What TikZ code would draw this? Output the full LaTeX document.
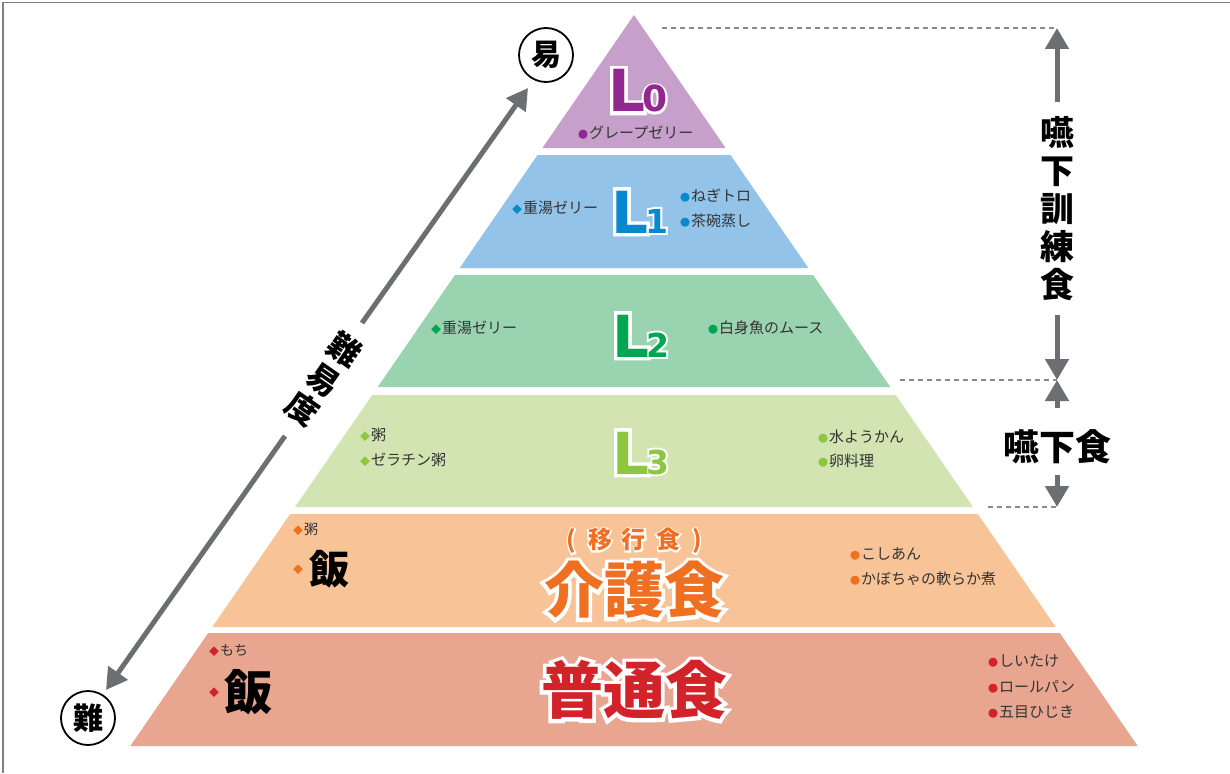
\documentclass[tikz,border=0pt]{standalone}
\usepackage{fontspec}
\usetikzlibrary{arrows.meta}
\newfontfamily\jp{Noto Sans CJK JP}
\newfontfamily\jph{Noto Sans CJK JP}[BoldFeatures={FakeBold=12}]
\newfontfamily\lat{DejaVu Sans}
\newfontfamily\lath{DejaVu Sans}[BoldFeatures={FakeBold=12}]
\definecolor{c0}{HTML}{C6A0CB}\definecolor{t0}{HTML}{92278F}
\definecolor{c1}{HTML}{93C3E8}\definecolor{t1}{HTML}{0A88CE}
\definecolor{c2}{HTML}{9AD3AF}\definecolor{t2}{HTML}{00A651}
\definecolor{c3}{HTML}{D1E4B1}\definecolor{t3}{HTML}{8DC63F}
\definecolor{c4}{HTML}{F9C398}\definecolor{t4}{HTML}{F07022}
\definecolor{c5}{HTML}{E8A58F}\definecolor{t5}{HTML}{D2232A}
\definecolor{agray}{HTML}{6D6E71}\definecolor{dgray}{HTML}{8A8A8A}
\definecolor{txt}{HTML}{333333}\definecolor{frame}{HTML}{808080}
\newcommand\bc[1]{\textcolor{#1}{\fontsize{10}{10}\selectfont ●}\hspace{1pt}}
\newcommand\bd[1]{\textcolor{#1}{\fontsize{10}{10}\selectfont ◆}\hspace{1pt}}
\begin{document}
\begin{tikzpicture}[x=1pt,y=-1pt,
  lab/.style={font=\jp\fontsize{15}{18}\selectfont, text=txt, inner sep=0, anchor=west},
  rice/.style={font=\jp\bfseries, text=black, inner sep=0, anchor=west},
  garrow/.style={draw=agray, line width=5pt, -{Triangle[width=23pt,length=21pt]}},
  dashln/.style={draw=dgray, line width=1.1pt, dash pattern=on 5pt off 4pt},
  halo/.style={inner sep=0, text=white},
  circ/.style={draw=black, line width=1.8pt, circle, minimum size=54pt, inner sep=0, font=\jp\bfseries\fontsize{30}{30}\selectfont},
]
\useasboundingbox (0,0) rectangle (1230,773);
% frame
\draw[frame, line width=1.6pt] (3,773) -- (3,2.5) -- (1230,2.5);

% pyramid layers
\fill[c0] (634,15) -- (725.6,148) -- (542.4,148) -- cycle;
\fill[c1] (537.5,155) -- (730.5,155) -- (808.3,268) -- (459.7,268) -- cycle;
\fill[c2] (454.9,275) -- (813.1,275) -- (890.3,387) -- (377.7,387) -- cycle;
\fill[c3] (372.2,395) -- (895.8,395) -- (973,507) -- (295,507) -- cycle;
\fill[c4] (290.2,514) -- (977.8,514) -- (1055.7,627) -- (212.3,627) -- cycle;
\fill[c5] (208.2,633) -- (1059.8,633) -- (1137.7,746) -- (130.3,746) -- cycle;

% L labels
\node[halo, anchor=base west] (L0h) at (608,112) {\lath\bfseries\fontsize{58}{58}\selectfont L\kern-3pt\fontsize{36}{36}\selectfont 0};
\node[inner sep=0, anchor=base west, text=t0] (L0) at (608,112) {\lat\bfseries\fontsize{58}{58}\selectfont L\kern-3pt\fontsize{36}{36}\selectfont 0};
\node[halo, anchor=base west] (L1h) at (611,233) {\lath\bfseries\fontsize{58}{58}\selectfont L\kern-3pt\fontsize{33}{33}\selectfont 1};
\node[inner sep=0, anchor=base west, text=t1] (L1) at (611,233) {\lat\bfseries\fontsize{58}{58}\selectfont L\kern-3pt\fontsize{33}{33}\selectfont 1};
\node[halo, anchor=base west] (L2h) at (612,357) {\lath\bfseries\fontsize{58}{58}\selectfont L\kern-3pt\fontsize{33}{33}\selectfont 2};
\node[inner sep=0, anchor=base west, text=t2] (L2) at (612,357) {\lat\bfseries\fontsize{58}{58}\selectfont L\kern-3pt\fontsize{33}{33}\selectfont 2};
\node[halo, anchor=base west] (L3h) at (612,474) {\lath\bfseries\fontsize{58}{58}\selectfont L\kern-3pt\fontsize{33}{33}\selectfont 3};
\node[inner sep=0, anchor=base west, text=t3] (L3) at (612,474) {\lat\bfseries\fontsize{58}{58}\selectfont L\kern-3pt\fontsize{33}{33}\selectfont 3};

% items L0
\node[lab] (i0) at (578,133) {\bc{t0}グレープゼリー};
% items L1
\node[lab] (i1a) at (512,208) {\bd{t1}重湯ゼリー};
\node[lab] (i1b) at (680,196) {\bc{t1}ねぎトロ};
\node[lab] (i1c) at (680,221) {\bc{t1}茶碗蒸し};
% items L2
\node[lab] (i2a) at (431,328) {\bd{t2}重湯ゼリー};
\node[lab] (i2b) at (708,328) {\bc{t2}白身魚のムース};
% items L3
\node[lab] (i3a) at (360,435) {\bd{t3}粥};
\node[lab] (i3b) at (360,460) {\bd{t3}ゼラチン粥};
\node[lab] (i3c) at (818,437) {\bc{t3}水ようかん};
\node[lab] (i3d) at (818,461) {\bc{t3}卵料理};
% items care food
\node[lab, font=\jp\fontsize{14}{16}\selectfont] (i4a) at (293,529) {\bd{t4}粥};
\node[lab] (i4bb) at (293,570) {\bd{t4}};
\node[rice, font=\jp\bfseries\fontsize{40}{40}\selectfont] (i4b) at (309,569) {飯};
\node[lab] (i4c) at (850,554) {\bc{t4}こしあん};
\node[lab] (i4d) at (850,579) {\bc{t4}かぼちゃの軟らか煮};
% items normal food
\node[lab, font=\jp\fontsize{14}{16}\selectfont] (i5a) at (209,650) {\bd{t5}もち};
\node[lab] (i5bb) at (209,693) {\bd{t5}};
\node[rice, font=\jp\bfseries\fontsize{48}{48}\selectfont] (i5b) at (224,692) {飯};
\node[lab] (i5c) at (988,661) {\bc{t5}しいたけ};
\node[lab] (i5d) at (988,687) {\bc{t5}ロールパン};
\node[lab] (i5e) at (988,712) {\bc{t5}五目ひじき};

% big titles
\node[halo] (ikoh) at (634,541) {\jph\bfseries\fontsize{24}{24}\selectfont (\hspace{12pt}移\hspace{10pt}行\hspace{10pt}食\hspace{12pt})};
\node[inner sep=0, text=t4] (iko) at (634,541) {\jp\bfseries\fontsize{24}{24}\selectfont (\hspace{12pt}移\hspace{10pt}行\hspace{10pt}食\hspace{12pt})};
\node[halo] (kaigoh) at (634,590) {\jph\bfseries\fontsize{60}{60}\selectfont 介護食};
\node[inner sep=0, text=t4] (kaigo) at (634,590) {\jp\bfseries\fontsize{60}{60}\selectfont 介護食};
\node[halo] (futsuh) at (634,690) {\jph\bfseries\fontsize{62}{62}\selectfont 普通食};
\node[inner sep=0, text=t5] (futsu) at (634,690) {\jp\bfseries\fontsize{62}{62}\selectfont 普通食};

% difficulty axis
\node[circ] (easy) at (546,55) {易};
\node[circ] (hard) at (88,718) {難};
\coordinate (dtip1) at (106,690);
\coordinate (dtip2) at (528,88);
\coordinate (dg1) at (285,436);
\coordinate (dg2) at (362,323);
\draw[garrow] (dg2) -- (dtip2);
\draw[garrow] (dg1) -- (dtip1);
\node[inner sep=0, rotate=-34.8, align=center, font=\jp\bfseries\fontsize{32}{36}\selectfont, text=black] (diff) at (323.5,379.5) {難\\易\\度};

% right side
\coordinate (dt) at (1057,28);
\coordinate (dm) at (1057,380);
\coordinate (db) at (1057,507);
\draw[dashln] (662,28) -- (dt);
\draw[dashln] (900,380) -- (dm);
\draw[dashln] (988,507) -- (db);
\node[inner sep=0, align=center, font=\jp\bfseries\fontsize{34}{38}\selectfont, text=black] (kunren) at (1057,208.5) {嚥\\下\\訓\\練\\食};
\coordinate (ku1) at (1057,102);
\coordinate (ku2) at (1057,315);
\draw[garrow] (ku1) -- (dt);
\draw[garrow] (ku2) -- (dm);
\node[inner sep=0, font=\jp\bfseries\fontsize{36}{36}\selectfont, text=black] (enge) at (1057,447) {嚥下食};
\coordinate (en1) at (1057,408);
\coordinate (en2) at (1057,475);
\draw[garrow] (en1) -- (dm);
\draw[garrow] (en2) -- (db);
\end{tikzpicture}
\end{document}
